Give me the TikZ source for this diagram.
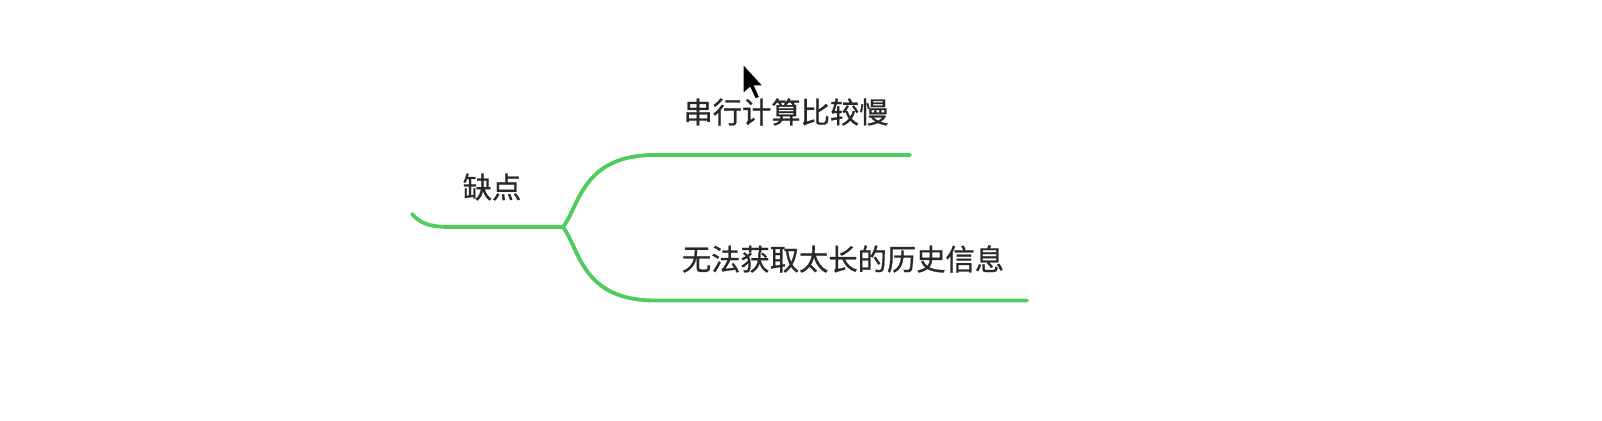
\documentclass[tikz,border=0pt]{standalone}
\usepackage{fontspec}
\newfontfamily\cjk[FakeBold=0.7]{Noto Sans CJK SC}
\definecolor{branchgreen}{RGB}{78,204,92}
\definecolor{textgray}{RGB}{40,40,40}
\tikzset{
  branch/.style={draw=branchgreen, line width=3.8pt, line cap=round},
  label/.style={font=\cjk\fontsize{29.3}{31}\selectfont, text=textgray, inner sep=0pt},
}
\begin{document}
\begin{tikzpicture}[x=1pt,y=-1pt]
\useasboundingbox[fill=white] (0,0) rectangle (1602,420);
% coordinates
\coordinate (start) at (412,214);
\coordinate (fork) at (563,227);
\coordinate (upend) at (910,155);
\coordinate (lowend) at (1027,300.5);
% labels
\node[label] (root) at (492,187) {缺点};
\node[label] (slow) at (786,112) {串行计算比较慢};
\node[label] (hist) at (843,259) {无法获取太长的历史信息};
% branches
\draw[branch] (start) .. controls (421,224) and (430,227) .. (452,227) -- (fork);
\draw[branch] (fork) .. controls (580,205) and (582,155) .. (655,155) -- (upend);
\draw[branch] (fork) .. controls (580,250) and (582,300.5) .. (655,300.5) -- (lowend);
% mouse cursor
\begin{scope}[shift={(743,64)}, scale=1.75]
\fill[black, draw=white, line width=1pt, line join=round]
  (0,0) -- (0,17) -- (4,13.5) -- (7,20) -- (9.5,19) -- (6.6,12.5) -- (11.5,12.5) -- cycle;
\end{scope}
\end{tikzpicture}
\end{document}
